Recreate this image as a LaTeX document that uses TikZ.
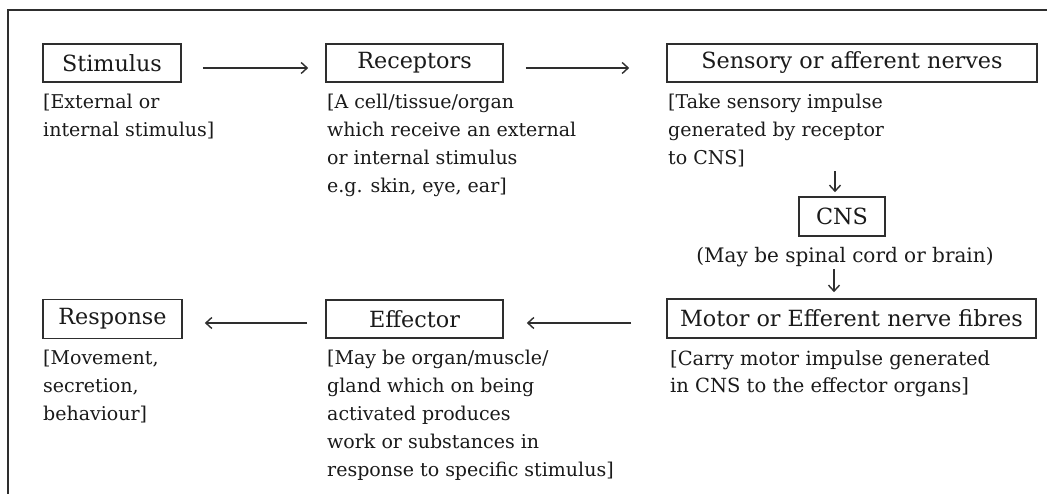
\documentclass[tikz,border=0pt]{standalone}
\usepackage{fontspec}
\setmainfont{DejaVu Serif}
\usetikzlibrary{arrows.meta}
\definecolor{ink}{HTML}{1A1A1A}
\definecolor{linec}{HTML}{2E2E2E}
\begin{document}
\begin{tikzpicture}[x=1pt,y=-1pt,
  lbl/.style={draw=linec, line width=1.6pt, inner sep=0pt, text=ink, font=\fontsize{22.3}{26}\selectfont},
  desc/.style={anchor=north west, inner sep=0pt, align=left, text=ink, font=\fontsize{19}{28}\selectfont},
  arr/.style={draw=linec, line width=1.4pt, -{Straight Barb[length=6pt,width=11pt]}},
]
\useasboundingbox (0,0) rectangle (1047,494);
\fill[white] (0,0) rectangle (1047,494);
\draw[line width=2pt, linec] (1047,10) -- (8,10) -- (8,494);

% boxes
\node[lbl, minimum width=138, minimum height=38] (stim) at (112,63) {Stimulus};
\node[lbl, minimum width=177, minimum height=38] (rec) at (414.5,63) {Receptors};
\node[lbl, minimum width=370, minimum height=38] (sen) at (852,63) {Sensory or afferent nerves};
\node[lbl, minimum width=86, minimum height=39] (cns) at (842,216.5) {CNS};
\node[lbl, minimum width=369, minimum height=39] (mot) at (851.5,318.5) {Motor or Efferent nerve fibres};
\node[lbl, minimum width=139, minimum height=39] (res) at (112.5,319) {Response};
\node[lbl, minimum width=177, minimum height=38] (eff) at (414.5,319) {Effector};

% descriptions
\node[desc] (dstim) at (43,94) {[External or\\internal stimulus]};
\node[desc] (drec) at (327,94) {[A cell/tissue/organ\\which receive an external\\or internal stimulus\\e.g. skin, eye, ear]};
\node[desc] (dsen) at (668,94) {[Take sensory impulse\\generated by receptor\\to CNS]};
\node[inner sep=0pt, text=ink, font=\fontsize{20}{24}\selectfont] (dcns) at (845,257) {(May be spinal cord or brain)};
\node[desc] (dres) at (43,350) {[Movement,\\secretion,\\behaviour]};
\node[desc] (deff) at (327,350) {[May be organ/muscle/\\gland which on being\\activated produces\\work or substances in\\response to specific stimulus]};
\node[desc, font=\fontsize{19.5}{27}\selectfont] (dmot) at (670,350) {[Carry motor impulse generated\\in CNS to the effector organs]};

% arrows
\draw[arr] ([xshift=21,yshift=-5]stim.east) -- ([xshift=-17,yshift=-5]rec.west);
\draw[arr] ([xshift=22,yshift=-5]rec.east) -- ([xshift=-37,yshift=-5]sen.west);
\draw[arr] ([xshift=-7,yshift=25]cns.north) -- ([xshift=-7,yshift=4]cns.north);
\draw[arr] ([xshift=-17.5,yshift=29]mot.north) -- ([xshift=-17.5,yshift=6]mot.north);
\draw[arr] ([xshift=-35,yshift=-4.5]mot.west) -- ([xshift=23,yshift=-4]eff.east);
\draw[arr] ([xshift=-18,yshift=-4]eff.west) -- ([xshift=22,yshift=-4]res.east);
\end{tikzpicture}
\end{document}
